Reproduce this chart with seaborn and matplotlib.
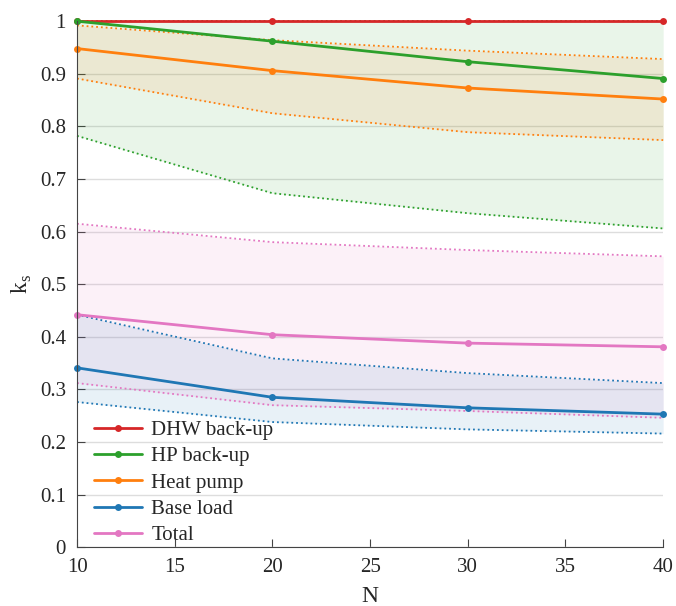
import pandas as pd
import seaborn as sns
import matplotlib.pyplot as plt

N = [10, 20, 30, 40]
series = ['DHW back-up', 'HP back-up', 'Heat pump', 'Base load', 'Total']
colors = ['#d62728', '#2ca02c', '#ff7f0e', '#1f77b4', '#e377c2']

dhw = [1.0, 1.0, 1.0, 1.0]
hp_backup = [1.0, 0.962, 0.923, 0.891]
heat_pump = [0.948, 0.906, 0.873, 0.852]
base_load = [0.341, 0.285, 0.265, 0.253]
total = [0.442, 0.404, 0.388, 0.381]

# band bounds (dotted lines)
hp_backup_lo = [0.782, 0.673, 0.635, 0.606]
hp_backup_hi = [1.0, 1.0, 1.0, 1.0]
heat_pump_lo = [0.891, 0.825, 0.789, 0.774]
heat_pump_hi = [0.992, 0.964, 0.944, 0.928]
base_load_lo = [0.276, 0.238, 0.224, 0.216]
base_load_hi = [0.442, 0.359, 0.331, 0.312]
total_lo = [0.312, 0.270, 0.259, 0.246]
total_hi = [0.615, 0.580, 0.565, 0.553]

df = pd.DataFrame({
    'N': N * 5,
    'ks': dhw + hp_backup + heat_pump + base_load + total,
    'series': [s for s in series for _ in N],
})

sns.set_style('white')
plt.rcParams['font.family'] = ['Liberation Serif', 'DejaVu Serif']

fig, ax = plt.subplots(figsize=(6.76, 6.06), dpi=100)
fig.subplots_adjust(left=0.114, right=0.981, top=0.965, bottom=0.097)

bands = [
    (hp_backup_lo, hp_backup_hi, colors[1]),
    (heat_pump_lo, heat_pump_hi, colors[2]),
    (total_lo, total_hi, colors[4]),
    (base_load_lo, base_load_hi, colors[3]),
]
for lo, hi, c in bands:
    ax.fill_between(N, lo, hi, color=c, alpha=0.1, lw=0)
    ax.plot(N, lo, ls=':', color=c, lw=1.3)
    ax.plot(N, hi, ls=':', color=c, lw=1.3)

sns.lineplot(data=df, x='N', y='ks', hue='series', hue_order=series,
             palette=colors, marker='o', markersize=5, markeredgewidth=0,
             linewidth=2, ax=ax)
for ln in ax.lines:
    ln.set_clip_on(False)

ax.set_xlim(10, 40)
ax.set_ylim(0, 1)
ax.set_yticks([i / 10 for i in range(11)])
ax.set_yticklabels(['0', '0.1', '0.2', '0.3', '0.4', '0.5', '0.6', '0.7', '0.8', '0.9', '1'])
ax.set_xticks([10, 15, 20, 25, 30, 35, 40])
ax.yaxis.grid(True, color='#dddddd', lw=1)
ax.set_axisbelow(True)
ax.tick_params(direction='in', length=6, labelsize=15, color='#444444',
               left=True, bottom=True, pad=8)
for s in ['top', 'right']:
    ax.spines[s].set_visible(False)
for s in ['left', 'bottom']:
    ax.spines[s].set_color('#444444')
ax.set_xlabel('N', fontsize=17, labelpad=6)
ax.set_ylabel('k$_\\mathregular{s}$', fontsize=17, labelpad=4)

ax.legend(loc='lower left', frameon=False, fontsize=15, handlelength=2.3,
          handletextpad=0.45, borderaxespad=0.0, labelspacing=0.32,
          bbox_to_anchor=(0.015, -0.012))

fig.savefig('out.png', dpi=100)
